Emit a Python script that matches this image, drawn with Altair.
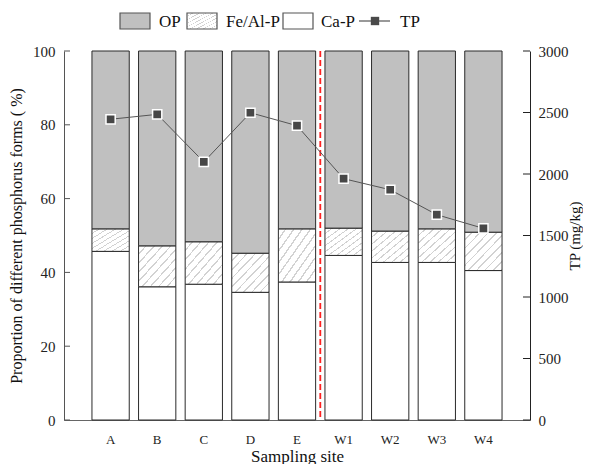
import altair as alt
import pandas as pd

sites = ["A", "B", "C", "D", "E", "W1", "W2", "W3", "W4"]
ca_p = [45.7, 36.1, 36.8, 34.6, 37.4, 44.6, 42.7, 42.7, 40.5]
fe_al_top = [51.8, 47.2, 48.3, 45.2, 51.8, 52.0, 51.2, 51.8, 50.9]
tp = [2445, 2485, 2098, 2498, 2393, 1962, 1872, 1669, 1558]
pct_ticks = [0, 20, 40, 60, 80, 100]
tp_ticks = [0, 500, 1000, 1500, 2000, 2500, 3000]
legend_labels = ["OP", "Fe/Al-P", "Ca-P", "TP"]

FONT = "Liberation Serif"
W, H = 466, 369

rows = []
for s, c, f in zip(sites, ca_p, fe_al_top):
    rows.append({"site": s, "comp": "Ca-P", "lo": 0, "hi": c})
    rows.append({"site": s, "comp": "Fe/Al-P", "lo": c, "hi": f})
    rows.append({"site": s, "comp": "OP", "lo": f, "hi": 100})
bars_df = pd.DataFrame(rows)
tp_df = pd.DataFrame({"site": sites, "tp": tp})

# diagonal hatch via repeated gradient stops
stops = []
n = 9
for k in range(n):
    b = k / n
    stops.append({"offset": b, "color": "#ffffff"})
    stops.append({"offset": b + 0.8 / n, "color": "#ffffff"})
    stops.append({"offset": b + 0.8 / n, "color": "#d2d2d2"})
    stops.append({"offset": min(1, b + 1.0 / n), "color": "#d2d2d2"})
hatch = {"gradient": "linear", "x1": 0, "y1": 0, "x2": 1, "y2": 1, "stops": stops}

xenc = alt.X("site:N", sort=sites,
             scale=alt.Scale(paddingInner=0.2, paddingOuter=0.6),
             axis=alt.Axis(title="Sampling site", ticks=False, labelAngle=0,
                           labelPadding=13, domainColor="#666666",
                           labelFont=FONT, labelFontSize=13, labelColor="#222",
                           titleFont=FONT, titleFontSize=17, titleFontWeight="normal",
                           titlePadding=2, titleColor="#111"))

pscale = alt.Scale(domain=[0, 100], nice=False)
paxis = alt.Axis(title="Proportion of different phosphorus forms ( %)",
                 values=pct_ticks, ticks=False, tickSize=0, labelPadding=9,
                 grid=False, domainColor="#555555",
                 labelFont=FONT, labelFontSize=15, labelColor="#222",
                 titleFont=FONT, titleFontSize=16, titleFontWeight="normal",
                 titlePadding=8, titleColor="#111")

base = alt.Chart(bars_df)


def seg(comp, fill):
    return base.transform_filter(alt.datum.comp == comp).mark_bar(
        fill=fill, stroke="#2a2a2a", strokeWidth=1, opacity=1
    ).encode(x=xenc, y=alt.Y("lo:Q", scale=pscale, axis=paxis), y2="hi:Q")


ca_layer = seg("Ca-P", "#ffffff")
fe_layer = seg("Fe/Al-P", hatch)
op_layer = seg("OP", "#c0c0c0")

lt = alt.Chart(pd.DataFrame({"v": pct_ticks})).mark_rule(color="#555555", strokeWidth=1).encode(
    y=alt.Y("v:Q", scale=pscale, axis=paxis), x=alt.value(0), x2=alt.value(6))

red = alt.Chart(pd.DataFrame({"site": ["E"]})).mark_rule(
    color="#ff2020", strokeWidth=1.8, strokeDash=[6, 3], xOffset=23.3
).encode(x=alt.X("site:N", sort=sites), y=alt.value(0), y2=alt.value(H))


def lg_rect(x0, fill, stroke):
    return alt.Chart(pd.DataFrame({"a": [0]})).mark_rect(fill=fill, stroke=stroke, strokeWidth=1.2).encode(
        x=alt.value(x0), x2=alt.value(x0 + 30), y=alt.value(-38), y2=alt.value(-22))


def lg_text(x0, label):
    return alt.Chart(pd.DataFrame({"label": [label]})).mark_text(
        align="left", baseline="middle", font=FONT, fontSize=17, color="#111"
    ).encode(x=alt.value(x0), y=alt.value(-29), text="label:N")


legend = [
    lg_rect(56, "#c0c0c0", "#555555"), lg_text(95, legend_labels[0]),
    lg_rect(123, hatch, "#555555"), lg_text(162, legend_labels[1]),
    lg_rect(219, "#ffffff", "#555555"), lg_text(257, legend_labels[2]),
    alt.Chart(pd.DataFrame({"a": [0]})).mark_rule(color="#555555", strokeWidth=1.2).encode(
        x=alt.value(295), x2=alt.value(326), y=alt.value(-30)),
    alt.Chart(pd.DataFrame({"a": [0]})).mark_point(shape="square", filled=True, size=70,
                                                  color="#4a4a4a", opacity=1).encode(
        x=alt.value(311), y=alt.value(-30)),
    lg_text(336, legend_labels[3]),
]

left_group = alt.layer(ca_layer, fe_layer, op_layer, lt, red, *legend)

tscale = alt.Scale(domain=[0, 3000], nice=False)
taxis = alt.Axis(title="TP (mg/kg)", orient="right", values=tp_ticks, ticks=False,
                 tickSize=0, labelPadding=8, grid=False, domainColor="#222222",
                 format="d", titleAngle=270,
                 labelFont=FONT, labelFontSize=15, labelColor="#222",
                 titleFont=FONT, titleFontSize=15, titleFontWeight="normal",
                 titlePadding=14, titleColor="#111")

tp_base = alt.Chart(tp_df).encode(x=alt.X("site:N", sort=sites),
                                  y=alt.Y("tp:Q", scale=tscale, axis=taxis))
tp_line = tp_base.mark_line(color="#555555", strokeWidth=1)
tp_pts = tp_base.mark_point(shape="square", filled=True, size=85, color="#474747",
                            stroke="#ffffff", strokeWidth=1.5, opacity=1)
rt = alt.Chart(pd.DataFrame({"v": tp_ticks})).mark_rule(color="#222222", strokeWidth=1).encode(
    y=alt.Y("v:Q", scale=tscale, axis=taxis), x=alt.value(W - 7), x2=alt.value(W))

right_group = alt.layer(tp_line, tp_pts, rt)

chart = alt.layer(left_group, right_group).resolve_scale(y="independent").properties(
    width=W, height=H,
    autosize=alt.AutoSizeParams(type="none"),
    padding={"left": 56, "top": 43, "right": 53, "bottom": 44},
    background="white",
).configure_view(stroke=None)

chart.save("out.html", embed_options={"renderer": "svg", "actions": False})
